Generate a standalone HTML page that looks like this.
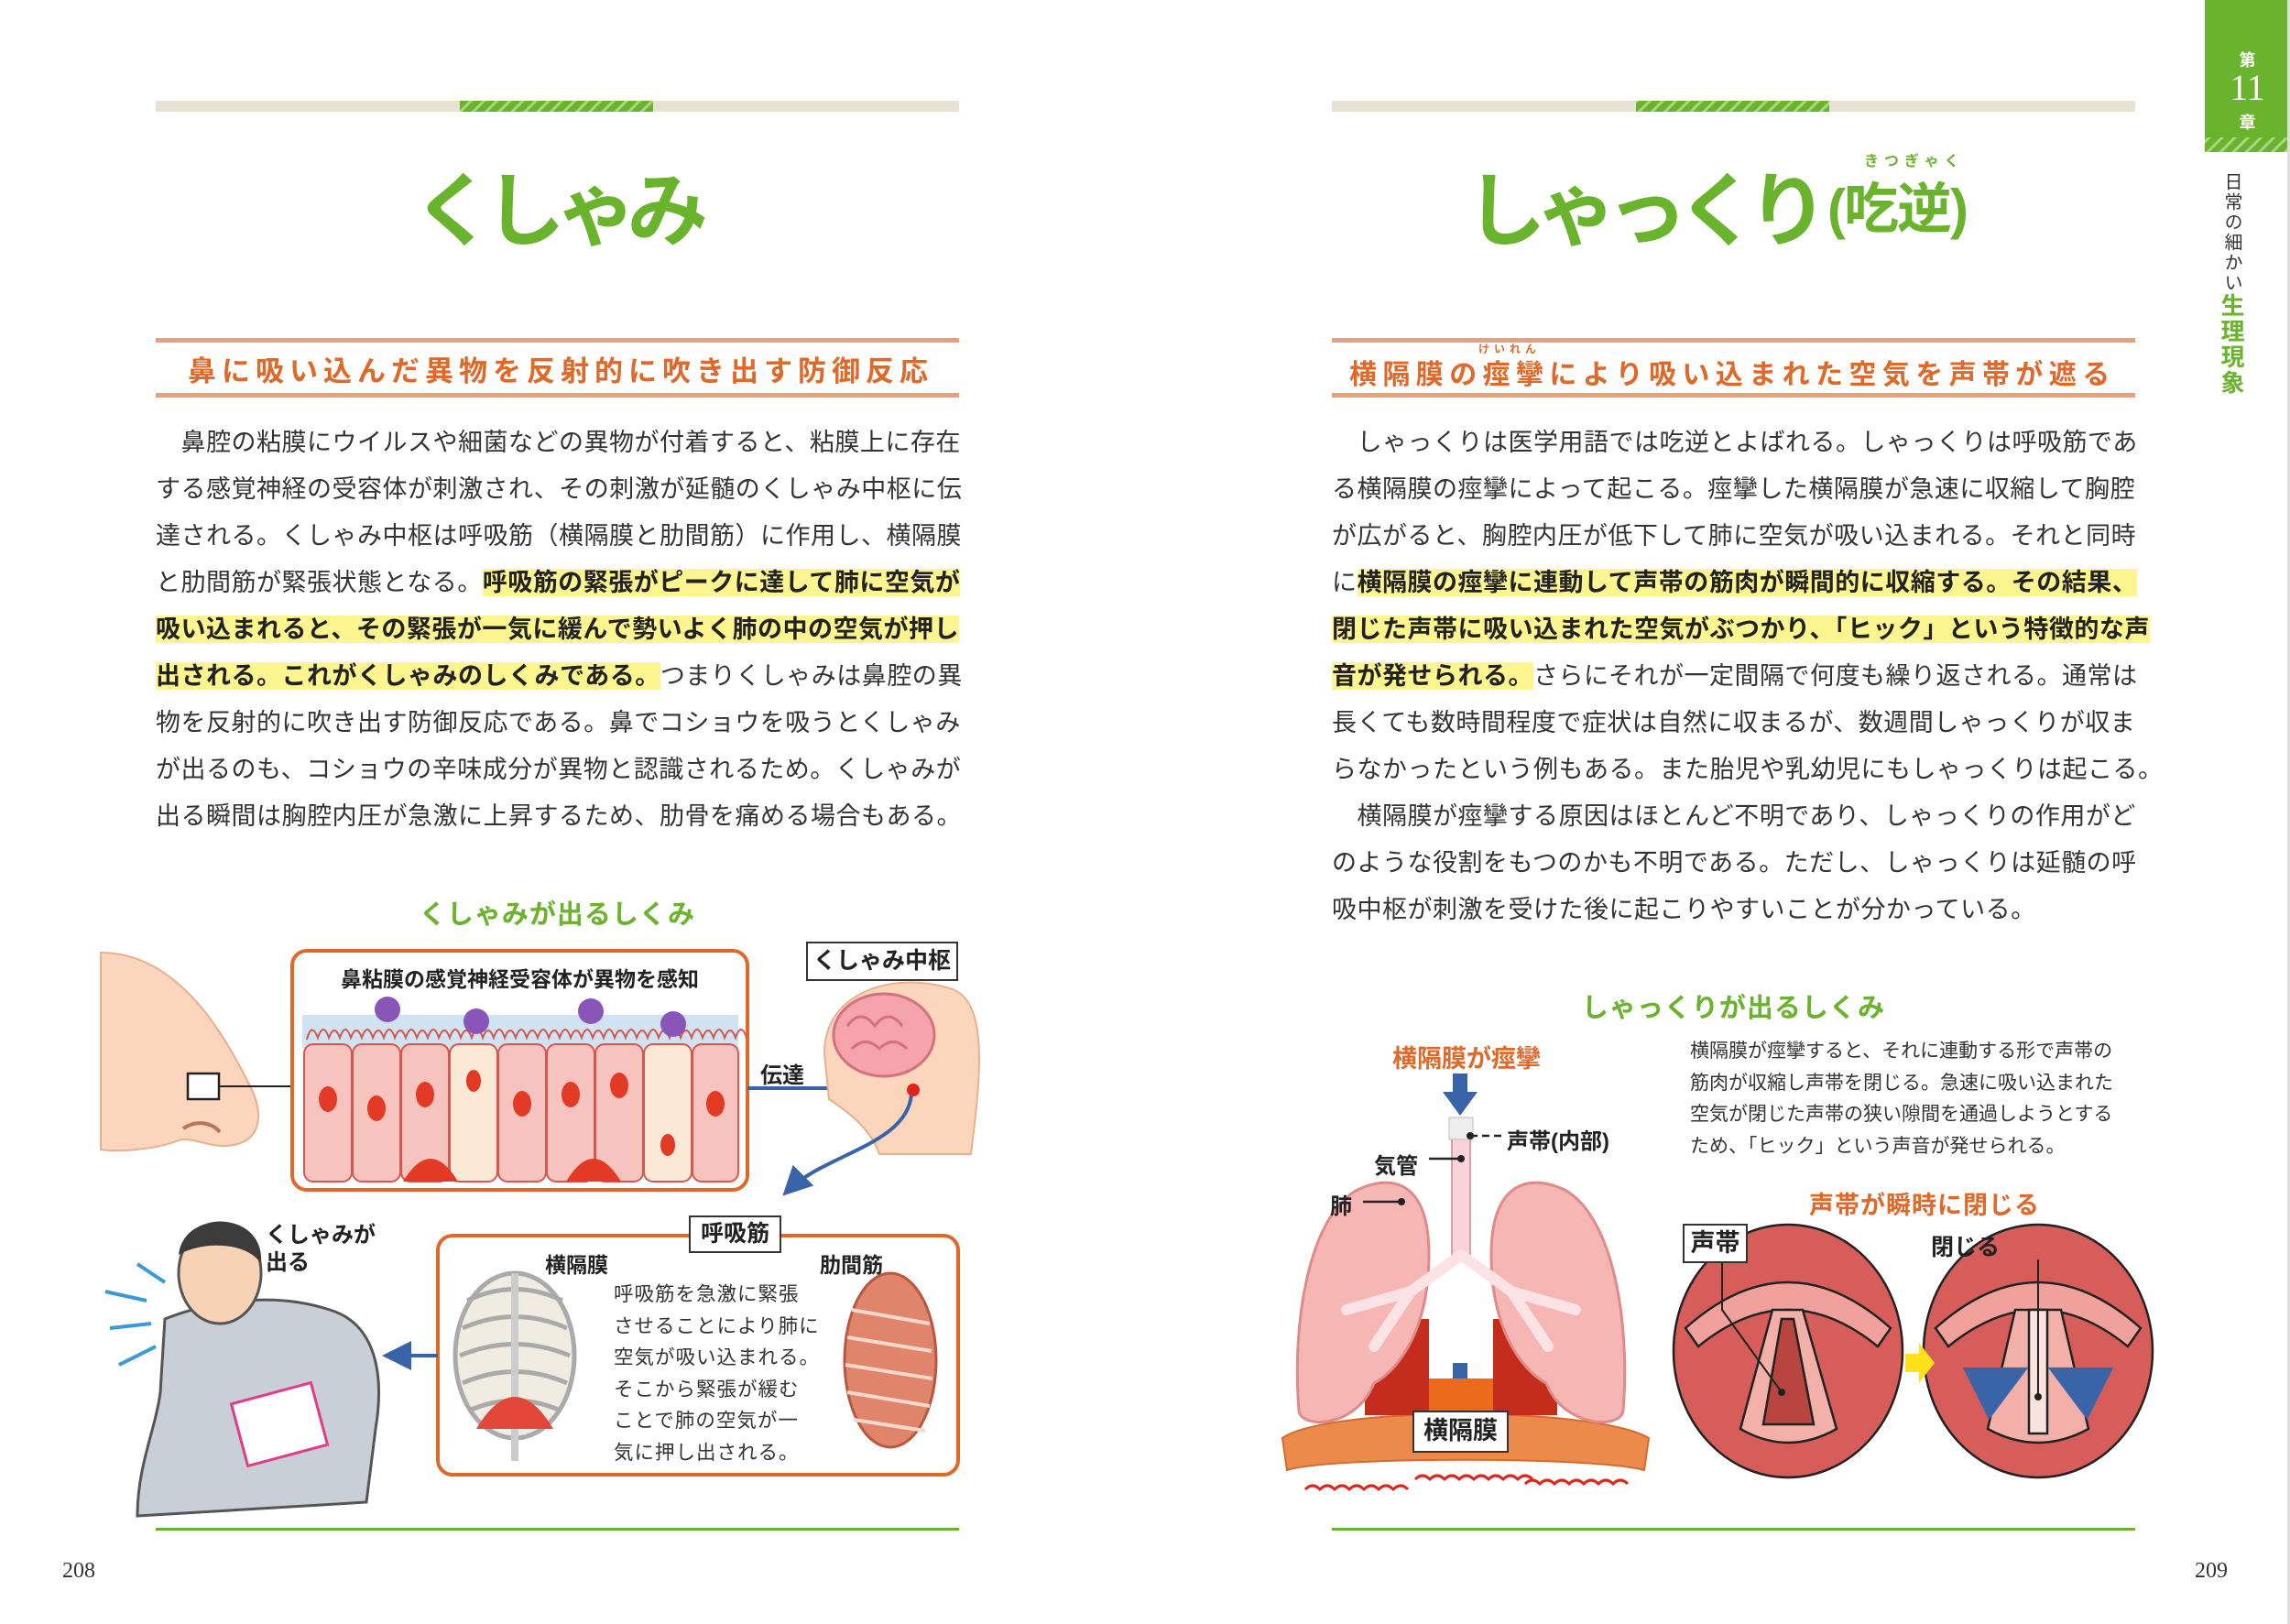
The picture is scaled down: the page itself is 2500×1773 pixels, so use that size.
<!DOCTYPE html>
<html><head><meta charset="utf-8">
<style>
*{margin:0;padding:0;box-sizing:border-box}
body{width:2500px;height:1773px;position:relative;background:#fff;overflow:hidden;font-family:"Liberation Sans","Noto Sans CJK JP",sans-serif;color:#333}
.a{position:absolute;white-space:nowrap}
.body{font-size:27px;letter-spacing:0.5px;line-height:51px}
.hl{background:#fdf58f;font-weight:bold;color:#222}
.t{font-weight:bold;color:#6ab42d}
.sub{color:#e0692a;font-weight:bold}
.lbl{font-weight:bold;color:#222}
.box{position:absolute;border:2.5px solid #333;background:#fff;font-weight:bold;color:#222;text-align:center}
</style></head><body>
<svg class="a" style="left:0;top:0" width="2500" height="1773" viewBox="0 0 2500 1773">
<defs>
<pattern id="hatch" width="10" height="10" patternUnits="userSpaceOnUse" patternTransform="rotate(45)"><rect width="10" height="10" fill="#6ab42d"/><rect width="3" height="10" fill="#a9d77f"/></pattern>
<marker id="ab" markerWidth="8" markerHeight="8" refX="6" refY="4" orient="auto"><path d="M0,0 L8,4 L0,8 z" fill="#3a64a8"/></marker>
</defs>
<rect x="170" y="110" width="877" height="12" fill="#e8e2d4"/>
<rect x="502" y="110" width="211" height="12" fill="url(#hatch)"/>
<rect x="1454" y="110" width="877" height="12" fill="#e8e2d4"/>
<rect x="1786" y="110" width="211" height="12" fill="url(#hatch)"/>
<rect x="170" y="369" width="877" height="5" fill="#e8a07a"/>
<rect x="170" y="429" width="877" height="5" fill="#e8a07a"/>
<rect x="1454" y="369" width="877" height="5" fill="#e8a07a"/>
<rect x="1454" y="429" width="877" height="5" fill="#e8a07a"/>
<rect x="170" y="1668" width="877" height="3" fill="#6ab42d"/>
<rect x="1454" y="1668" width="877" height="3" fill="#6ab42d"/>
<rect x="2407" y="0" width="93" height="150" fill="#6ab42d"/>
<rect x="2407" y="150" width="93" height="16" fill="url(#hatch)"/>
<rect x="2497" y="0" width="3" height="1773" fill="#ddd"/>

<path d="M110,1040 C190,1040 240,1120 270,1180 C290,1215 285,1245 255,1250 C230,1255 210,1240 195,1245 C170,1255 130,1258 110,1255 Z" fill="#fbd6bd" stroke="#e8b08f" stroke-width="2"/>
<path d="M200,1232 C215,1222 232,1226 240,1236" fill="none" stroke="#b7785a" stroke-width="4"/>
<rect x="205" y="1172" width="34" height="28" fill="#fff" stroke="#222" stroke-width="2.5"/>
<line x1="239" y1="1186" x2="319" y2="1186" stroke="#222" stroke-width="2"/>
<rect x="319" y="1038" width="497" height="261" rx="16" fill="#fff" stroke="#e0692a" stroke-width="4"/>
<rect x="330" y="1108" width="476" height="36" fill="#cfe3f3"/>
<g stroke="#d9554f" stroke-width="2" fill="none">
<path d="M335,1135 q5,-20 12,-2 q6,-18 12,0 q6,-16 12,0 q6,-18 12,0 q6,-16 12,0 q6,-18 12,0 q6,-16 12,0 q6,-18 12,0 q6,-16 12,0 q6,-18 12,0 q6,-16 12,0 q6,-18 12,0 q6,-16 12,0 q6,-18 12,0 q6,-16 12,0 q6,-18 12,0 q6,-16 12,0 q6,-18 12,0 q6,-16 12,0 q6,-18 12,0 q6,-16 12,0 q6,-18 12,0 q6,-16 12,0 q6,-18 12,0 q6,-16 12,0 q6,-18 12,0 q6,-16 12,0 q6,-18 12,0 q6,-16 12,0 q6,-18 12,0 q6,-16 12,0 q6,-18 12,0 q6,-16 12,0 q6,-18 12,0 q6,-16 12,0 q6,-18 12,0 q6,-16 12,0 q6,-18 12,0 q6,-16 12,0 q6,-18 12,0"/>
</g>
<g fill="#f7c3be" stroke="#d9554f" stroke-width="2">
<rect x="332" y="1140" width="52" height="150" rx="10"/>
<rect x="385" y="1140" width="52" height="150" rx="10"/>
<rect x="438" y="1140" width="52" height="150" rx="10"/>
<rect x="491" y="1140" width="52" height="150" rx="10" fill="#fbe8d6"/>
<rect x="544" y="1140" width="52" height="150" rx="10"/>
<rect x="597" y="1140" width="52" height="150" rx="10"/>
<rect x="650" y="1140" width="52" height="150" rx="10"/>
<rect x="703" y="1140" width="52" height="150" rx="10" fill="#fbe8d6"/>
<rect x="756" y="1140" width="50" height="150" rx="10"/>
</g>
<g fill="#e23a24">
<ellipse cx="358" cy="1200" rx="10" ry="14"/><ellipse cx="411" cy="1210" rx="10" ry="14"/>
<ellipse cx="464" cy="1195" rx="10" ry="14"/><ellipse cx="517" cy="1180" rx="8" ry="12"/>
<ellipse cx="570" cy="1205" rx="10" ry="14"/><ellipse cx="623" cy="1195" rx="10" ry="14"/>
<ellipse cx="676" cy="1185" rx="10" ry="14"/><ellipse cx="729" cy="1250" rx="8" ry="12"/>
<ellipse cx="781" cy="1205" rx="10" ry="14"/>
<path d="M440,1290 Q470,1240 500,1290 Z"/><path d="M618,1290 Q648,1240 678,1290 Z"/>
</g>
<g fill="#8a55b8">
<circle cx="423" cy="1102" r="14"/><circle cx="520" cy="1115" r="14"/><circle cx="645" cy="1104" r="14"/><circle cx="735" cy="1118" r="14"/>
</g>
<line x1="816" y1="1188" x2="985" y2="1188" stroke="#3a64a8" stroke-width="4" marker-end="url(#ab)"/>
<path d="M900,1150 C900,1080 980,1060 1040,1080 C1080,1095 1070,1180 1060,1260 L960,1260 C950,1230 920,1210 905,1200 Z" fill="#fbd6bd" stroke="#e8b08f" stroke-width="2"/>
<ellipse cx="965" cy="1130" rx="55" ry="45" fill="#f5a4ad" stroke="#d5707d" stroke-width="3"/>
<path d="M925,1120 q15,-20 30,0 q15,-20 30,0 M930,1145 q15,-15 30,0 q15,-15 30,0" fill="none" stroke="#d5707d" stroke-width="3"/>
<circle cx="997" cy="1190" r="7" fill="#e2231a"/>
<path d="M995,1195 C990,1250 900,1260 860,1300" fill="none" stroke="#3a64a8" stroke-width="4" marker-end="url(#ab)"/>
<rect x="478" y="1349" width="568" height="261" rx="16" fill="#fff" stroke="#e0692a" stroke-width="4"/>
<g stroke="#aaa" stroke-width="5" fill="none">
<ellipse cx="562" cy="1480" rx="65" ry="90" fill="#f1ece2"/>
<path d="M510,1420 q52,-25 104,0 M505,1450 q57,-25 114,0 M502,1480 q60,-25 120,0 M505,1510 q57,-25 114,0 M512,1540 q50,-22 100,0"/>
<line x1="562" y1="1390" x2="562" y2="1595" stroke="#ccc" stroke-width="8"/>
</g>
<path d="M520,1560 Q562,1490 604,1560 Z" fill="#e2473a"/>
<ellipse cx="972" cy="1485" rx="50" ry="95" fill="#e1846c" stroke="#b9573f" stroke-width="3"/>
<g stroke="#f5d8cc" stroke-width="4"><path d="M930,1430 l85,15 M925,1460 l92,15 M923,1490 l95,15 M925,1520 l90,15 M932,1550 l78,12"/></g>
<line x1="478" y1="1480" x2="425" y2="1480" stroke="#3a64a8" stroke-width="4" marker-end="url(#ab)"/>
<path d="M180,1440 C230,1420 300,1410 360,1430 C410,1445 420,1500 410,1560 L400,1640 L150,1655 C150,1600 170,1560 175,1520 Z" fill="#c9cfd6" stroke="#555" stroke-width="3"/>
<ellipse cx="240" cy="1390" rx="45" ry="55" fill="#f8d2b5" stroke="#555" stroke-width="3"/>
<path d="M195,1370 C200,1320 290,1320 285,1380 C270,1355 220,1355 195,1370 Z" fill="#3c3c3c"/>
<rect x="260" y="1520" width="90" height="70" fill="#fff" stroke="#e33a8a" stroke-width="3" transform="rotate(-15 305 1555)"/>
<g stroke="#3a9ad6" stroke-width="4"><line x1="115" y1="1410" x2="160" y2="1420"/><line x1="120" y1="1450" x2="165" y2="1445"/><line x1="130" y1="1490" x2="170" y2="1470"/><line x1="150" y1="1380" x2="180" y2="1400"/></g>

<g fill="#3a64a8"><rect x="1586" y="1172" width="16" height="22"/><path d="M1575,1192 L1613,1192 L1594,1218 Z"/>
<rect x="1586" y="1488" width="16" height="22"/><path d="M1575,1508 L1613,1508 L1594,1534 Z"/></g>
<path d="M1400,1570 C1450,1535 1740,1535 1800,1570 L1795,1605 C1740,1590 1450,1590 1405,1605 Z" fill="#ec8a4c" stroke="#d56a2e" stroke-width="2"/>
<path d="M1490,1440 L1560,1440 L1560,1545 L1490,1545 Z M1630,1440 L1700,1440 L1700,1545 L1630,1545 Z" fill="#c42c1c"/>
<rect x="1560" y="1505" width="70" height="40" fill="#ec6a1c"/>
<path d="M1560,1370 C1560,1460 1520,1500 1500,1510 C1480,1560 1420,1560 1418,1540 C1410,1440 1430,1330 1480,1300 C1520,1280 1560,1290 1560,1370 Z" fill="#f5b6b4" stroke="#e08a8a" stroke-width="3"/>
<path d="M1628,1370 C1628,1460 1668,1500 1688,1510 C1708,1560 1770,1560 1772,1540 C1780,1440 1760,1330 1710,1300 C1670,1280 1628,1290 1628,1370 Z" fill="#f5b6b4" stroke="#e08a8a" stroke-width="3"/>
<rect x="1585" y="1230" width="20" height="140" fill="#f8d4d8" stroke="#d9a0a6" stroke-width="2"/>
<rect x="1582" y="1220" width="26" height="24" fill="#eee" stroke="#bbb"/>
<g stroke="#fbe2e4" stroke-width="12" fill="none" stroke-linecap="round"><path d="M1595,1370 L1540,1410 L1500,1470 M1540,1410 L1470,1430 M1595,1370 L1650,1410 L1690,1470 M1650,1410 L1720,1430"/></g>
<g fill="none" stroke="#222" stroke-width="2.5"><line x1="1605" y1="1240" x2="1640" y2="1240" stroke-dasharray="8 5"/><line x1="1560" y1="1265" x2="1595" y2="1265"/><line x1="1488" y1="1312" x2="1530" y2="1312"/></g>
<g fill="#222"><circle cx="1605" cy="1240" r="4"/><circle cx="1595" cy="1265" r="4"/><circle cx="1530" cy="1312" r="4"/></g>
<g fill="none" stroke="#e2231a" stroke-width="3"><path d="M1425,1626 q8,-8 16,0 q8,-8 16,0 q8,-8 16,0 q8,-8 16,0 q8,-8 16,0 q8,-8 16,0 q8,-8 16,0 M1545,1615 q8,-8 16,0 q8,-8 16,0 q8,-8 16,0 q8,-8 16,0 q8,-8 16,0 q8,-8 16,0 q8,-8 16,0 q8,-8 16,0 M1665,1620 q8,-8 16,0 q8,-8 16,0 q8,-8 16,0 q8,-8 16,0 q8,-8 16,0 q8,-8 16,0 q8,-8 16,0"/></g>
<g stroke="#222" stroke-width="2.5">
<ellipse cx="1952" cy="1475" rx="125" ry="138" fill="#d65d5a"/>
<path d="M1840,1450 Q1952,1350 2064,1450 L2050,1470 Q1952,1390 1854,1470 Z" fill="#f1a19c"/>
<path d="M1900,1560 L1935,1430 L1968,1430 L2005,1560 Q1952,1590 1900,1560 Z" fill="#f3b0a8"/>
<path d="M1925,1555 L1945,1440 L1958,1440 L1980,1555 Z" fill="#b8453f"/>
<ellipse cx="2225" cy="1475" rx="125" ry="138" fill="#d65d5a"/>
<path d="M2113,1450 Q2225,1350 2337,1450 L2323,1470 Q2225,1390 2127,1470 Z" fill="#f1a19c"/>
<path d="M2170,1560 L2200,1430 L2250,1430 L2280,1560 Q2225,1590 2170,1560 Z" fill="#f3b0a8"/>
<rect x="2215" y="1430" width="20" height="135" fill="#fbe3e0"/>
</g>
<path d="M2080,1478 L2095,1478 L2095,1466 L2112,1488 L2095,1510 L2095,1498 L2080,1498 Z" fill="#ffe01a"/>
<g fill="none" stroke="#3a64a8" stroke-width="8"><path d="M2150,1500 Q2180,1510 2200,1500" marker-end="url(#ab)"/><path d="M2300,1500 Q2270,1510 2250,1500" marker-end="url(#ab)"/></g>
<g stroke="#222" stroke-width="2" fill="none"><path d="M1880,1379 L1880,1430 L1945,1520"/><path d="M2225,1375 L2225,1525"/></g>
<g fill="#222"><circle cx="1945" cy="1520" r="4"/><circle cx="2225" cy="1525" r="4"/></g>
</svg>

<div class="a" style="left:2407px;top:52px;width:93px;text-align:center;color:#fff;font-size:18px;font-weight:bold">第</div>
<div class="a" style="left:2407px;top:72px;width:93px;text-align:center;color:#fff;font-size:40px;font-family:'Liberation Serif',serif">11</div>
<div class="a" style="left:2407px;top:120px;width:93px;text-align:center;color:#fff;font-size:18px;font-weight:bold">章</div>
<div class="a" style="left:2418px;top:188px;writing-mode:vertical-rl;font-size:20px;color:#333;letter-spacing:2px">日常の細かい<span style="color:#6ab42d;font-weight:bold;font-size:26px">生理現象</span></div>

<div class="a t" style="left:451px;top:160px;font-size:88px;letter-spacing:-10px">くしゃみ</div>
<div class="a t" style="left:1600px;top:160px;font-size:88px;letter-spacing:-11px">しゃっくり</div>
<div class="a t" style="left:1995px;top:180px;font-size:60px;letter-spacing:-2px">(吃逆)</div>
<div class="a t" style="left:2035px;top:162px;font-size:16px;letter-spacing:6px">きつぎゃく</div>

<div class="a sub" style="left:205px;top:380px;font-size:31px;letter-spacing:6px">鼻に吸い込んだ異物を反射的に吹き出す防御反応</div>
<div class="a sub" style="left:1473px;top:384px;font-size:30px;letter-spacing:6.4px">横隔膜の痙攣により吸い込まれた空気を声帯が遮る</div>
<div class="a sub" style="left:1614px;top:372px;font-size:12px;letter-spacing:5px">けいれん</div>

<div class="a body" style="left:170px;top:458px">
<div>　鼻腔の粘膜にウイルスや細菌などの異物が付着すると、粘膜上に存在</div>
<div>する感覚神経の受容体が刺激され、その刺激が延髄のくしゃみ中枢に伝</div>
<div>達される。くしゃみ中枢は呼吸筋（横隔膜と肋間筋）に作用し、横隔膜</div>
<div>と肋間筋が緊張状態となる。<span class="hl">呼吸筋の緊張がピークに達して肺に空気が</span></div>
<div><span class="hl">吸い込まれると、その緊張が一気に緩んで勢いよく肺の中の空気が押し</span></div>
<div><span class="hl">出される。これがくしゃみのしくみである。</span>つまりくしゃみは鼻腔の異</div>
<div>物を反射的に吹き出す防御反応である。鼻でコショウを吸うとくしゃみ</div>
<div>が出るのも、コショウの辛味成分が異物と認識されるため。くしゃみが</div>
<div>出る瞬間は胸腔内圧が急激に上昇するため、肋骨を痛める場合もある。</div>
</div>

<div class="a body" style="left:1454px;top:458px">
<div>　しゃっくりは医学用語では吃逆とよばれる。しゃっくりは呼吸筋であ</div>
<div>る横隔膜の痙攣によって起こる。痙攣した横隔膜が急速に収縮して胸腔</div>
<div>が広がると、胸腔内圧が低下して肺に空気が吸い込まれる。それと同時</div>
<div>に<span class="hl">横隔膜の痙攣に連動して声帯の筋肉が瞬間的に収縮する。その結果、</span></div>
<div><span class="hl">閉じた声帯に吸い込まれた空気がぶつかり、「ヒック」という特徴的な声</span></div>
<div><span class="hl">音が発せられる。</span>さらにそれが一定間隔で何度も繰り返される。通常は</div>
<div>長くても数時間程度で症状は自然に収まるが、数週間しゃっくりが収ま</div>
<div>らなかったという例もある。また胎児や乳幼児にもしゃっくりは起こる。</div>
<div>　横隔膜が痙攣する原因はほとんど不明であり、しゃっくりの作用がど</div>
<div>のような役割をもつのかも不明である。ただし、しゃっくりは延髄の呼</div>
<div>吸中枢が刺激を受けた後に起こりやすいことが分かっている。</div>
</div>

<div class="a t" style="left:170px;width:877px;text-align:center;top:975px;font-size:29px;letter-spacing:1px">くしゃみが出るしくみ</div>
<div class="a lbl" style="left:319px;width:497px;text-align:center;top:1050px;font-size:23px">鼻粘膜の感覚神経受容体が異物を感知</div>
<div class="box" style="left:880px;top:1028px;width:166px;height:43px;font-size:25px;line-height:38px">くしゃみ中枢</div>
<div class="a lbl" style="left:830px;top:1154px;font-size:24px">伝達</div>
<div class="box" style="left:752px;top:1327px;width:101px;height:41px;font-size:25px;line-height:36px">呼吸筋</div>
<div class="a lbl" style="left:595px;top:1362px;font-size:23px">横隔膜</div>
<div class="a lbl" style="left:895px;top:1362px;font-size:23px">肋間筋</div>
<div class="a" style="left:670px;top:1396px;font-size:21.5px;line-height:34.5px;color:#333;letter-spacing:1px">呼吸筋を急激に緊張<br>させることにより肺に<br>空気が吸い込まれる。<br>そこから緊張が緩む<br>ことで肺の空気が一<br>気に押し出される。</div>
<div class="a lbl" style="left:290px;top:1334px;font-size:24px;line-height:30px">くしゃみが<br>出る</div>

<div class="a t" style="left:1454px;width:877px;text-align:center;top:1077px;font-size:29px;letter-spacing:1px">しゃっくりが出るしくみ</div>
<div class="a sub" style="left:1520px;top:1134px;font-size:27px">横隔膜が痙攣</div>
<div class="a lbl" style="left:1645px;top:1226px;font-size:24px;font-weight:bold">声帯(内部)</div>
<div class="a lbl" style="left:1500px;top:1253px;font-size:24px">気管</div>
<div class="a lbl" style="left:1452px;top:1297px;font-size:24px">肺</div>
<div class="box" style="left:1542px;top:1540px;width:105px;height:46px;font-size:27px;line-height:41px">横隔膜</div>
<div class="a" style="left:1845px;top:1131px;font-size:21px;line-height:34.5px;color:#333">横隔膜が痙攣すると、それに連動する形で声帯の<br>筋肉が収縮し声帯を閉じる。急速に吸い込まれた<br>空気が閉じた声帯の狭い隙間を通過しようとする<br>ため、「ヒック」という声音が発せられる。</div>
<div class="a sub" style="left:1975px;top:1294px;font-size:27px;letter-spacing:1px">声帯が瞬時に閉じる</div>
<div class="box" style="left:1837px;top:1336px;width:71px;height:43px;font-size:27px;line-height:38px">声帯</div>
<div class="a lbl" style="left:2108px;top:1342px;font-size:25px">閉じる</div>

<div class="a" style="left:68px;top:1702px;font-size:24px;font-family:'Liberation Serif',serif;color:#333">208</div>
<div class="a" style="left:2396px;top:1702px;font-size:24px;font-family:'Liberation Serif',serif;color:#333">209</div>
</body></html>
